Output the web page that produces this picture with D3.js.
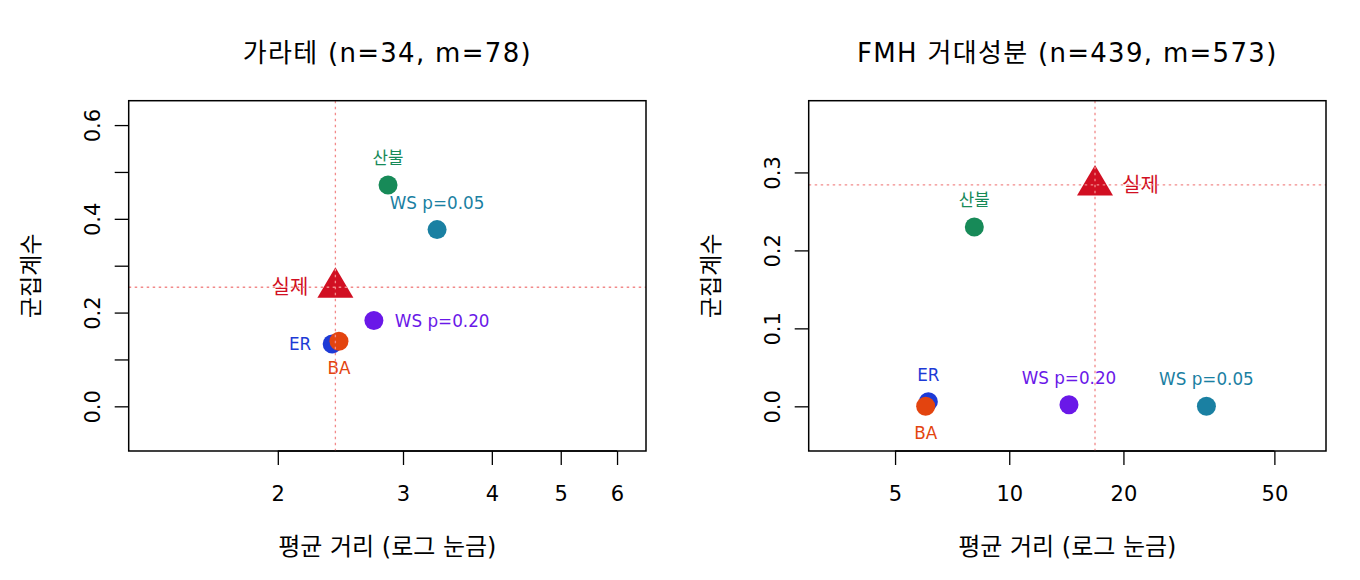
<!DOCTYPE html>
<html>
<head>
<meta charset="utf-8">
<script src="https://cdn.jsdelivr.net/npm/d3@7"></script>
<style>
body { margin: 0; background: #fff; }
text { font-family: "DejaVu Sans", "Noto Sans CJK KR", sans-serif; }
</style>
</head>
<body>
<svg id="chart" width="1360" height="580"></svg>
<script>
// drawing order matters: ER first so BA sits on top, 실제 last
var models = ['ER', 'BA', 'WS p=0.05', 'WS p=0.20', '산불', '실제'];

var karateDist = [2.385, 2.438, 3.35, 2.73, 2.858, 2.41];
var karateClust = [0.133, 0.139, 0.377, 0.183, 0.472, 0.254];
var fmhDist = [6.12, 6.02, 33.1, 14.37, 8.09, 16.83];
var fmhClust = [0.006, 0.0, 0.0, 0.002, 0.230, 0.284];

var karateXTicks = [2, 3, 4, 5, 6];
var karateYTicks = [0, 0.1, 0.2, 0.3, 0.4, 0.5, 0.6];
var karateYLabels = ['0.0', '', '0.2', '', '0.4', '', '0.6'];
var fmhXTicks = [5, 10, 20, 50];
var fmhYTicks = [0, 0.1, 0.2, 0.3];
var fmhYLabels = ['0.0', '0.1', '0.2', '0.3'];

var modelColor = {
  'ER': '#1d3ad6',
  'BA': '#e3440f',
  'WS p=0.05': '#1a80a2',
  'WS p=0.20': '#6a18e8',
  '산불': '#178a58',
  '실제': '#d10f22'
};

var svg = d3.select('#chart');

function drawPanel(opts) {
  var left = opts.left, top = 100.7, w = 517.3, h = 350.3;
  var g = svg.append('g').attr('transform', 'translate(' + left + ',' + top + ')');

  var x = d3.scaleLog().domain(opts.xDomain).range([0, w]);
  var y = d3.scaleLinear().domain(opts.yDomain).range([h, 0]);

  var rows = models.map(function(m, i) {
    return { name: m, dist: opts.dist[i], clust: opts.clust[i] };
  });
  var real = rows[rows.length - 1];

  // x axis
  var xAxis = g.append('g').attr('transform', 'translate(0,' + h + ')')
    .call(d3.axisBottom(x).tickValues(opts.xTicks).tickSize(14)
      .tickFormat(function(d) { return String(d); }));
  xAxis.select('.domain').remove();
  xAxis.attr('font-size', null);
  xAxis.selectAll('line').attr('stroke', '#000').attr('stroke-width', 1.3);
  xAxis.selectAll('text').attr('y', 43).attr('dy', null)
    .attr('dominant-baseline', 'central').style('font-size', '21px').attr('fill', '#000');
  xAxis.append('line')
    .attr('x1', x(opts.xTicks[0])).attr('x2', x(opts.xTicks[opts.xTicks.length - 1]))
    .attr('stroke', '#000').attr('stroke-width', 1.3);

  // y axis, labels turned like R's las=0
  var yAxis = g.append('g')
    .call(d3.axisLeft(y).tickValues(opts.yTicks).tickSize(14)
      .tickFormat(function(d, i) { return opts.yLabels[i]; }));
  yAxis.select('.domain').remove();
  yAxis.attr('font-size', null);
  yAxis.selectAll('line').attr('stroke', '#000').attr('stroke-width', 1.3);
  yAxis.selectAll('text').attr('x', 0).attr('y', 0).attr('dy', null)
    .attr('transform', 'translate(-36,0) rotate(-90)')
    .attr('text-anchor', 'middle').attr('dominant-baseline', 'central')
    .style('font-size', '21px').attr('fill', '#000');

  // points
  g.selectAll('circle.pt').data(rows.slice(0, -1)).enter()
    .append('circle').attr('class', 'pt')
    .attr('cx', function(d) { return x(d.dist); })
    .attr('cy', function(d) { return y(d.clust); })
    .attr('r', 9.5)
    .attr('fill', function(d) { return modelColor[d.name]; });

  var rx = x(real.dist), ry = y(real.clust);
  g.append('path')
    .attr('d', 'M' + rx + ',' + (ry - 20) + 'L' + (rx + 18) + ',' + (ry + 10.5) +
      'L' + (rx - 18) + ',' + (ry + 10.5) + 'Z')
    .attr('fill', modelColor['실제']);

  // labels
  g.selectAll('text.lbl').data(rows).enter()
    .append('text').attr('class', 'lbl')
    .each(function(d) {
      var pos = opts.labelPos[d.name];
      var isReal = d.name === '실제';
      var side = isReal ? 27 : 21;
      var px = x(d.dist), py = y(d.clust);
      var t = d3.select(this).text(d.name)
        .attr('fill', modelColor[d.name])
        .style('font-size', isReal ? '20px' : '16.8px')
        .attr('dominant-baseline', 'central');
      if (pos === 1) t.attr('x', px).attr('y', py + 27).attr('text-anchor', 'middle');
      if (pos === 3) t.attr('x', px).attr('y', py - 27).attr('text-anchor', 'middle');
      if (pos === 2) t.attr('x', px - side).attr('y', py).attr('text-anchor', 'end');
      if (pos === 4) t.attr('x', px + side).attr('y', py).attr('text-anchor', 'start');
    });

  // reference lines through the real network
  g.append('line').attr('x1', 0).attr('x2', w).attr('y1', ry).attr('y2', ry)
    .attr('stroke', '#f28a8a').attr('stroke-width', 1.3).attr('stroke-dasharray', '2.5,3.5');
  g.append('line').attr('x1', rx).attr('x2', rx).attr('y1', 0).attr('y2', h)
    .attr('stroke', '#f28a8a').attr('stroke-width', 1.3).attr('stroke-dasharray', '2.5,3.5');

  // box
  g.append('rect').attr('width', w).attr('height', h)
    .attr('fill', 'none').attr('stroke', '#000').attr('stroke-width', 1.5);

  // titles
  g.append('text').text(opts.title)
    .attr('x', w / 2).attr('y', 52.7 - top)
    .attr('text-anchor', 'middle').attr('dominant-baseline', 'central')
    .style('font-size', '26px').style('letter-spacing', '1.3px').attr('fill', '#000');
  g.append('text').text('평균 거리 (로그 눈금)')
    .attr('x', w / 2).attr('y', 547 - top)
    .attr('text-anchor', 'middle').attr('dominant-baseline', 'central')
    .style('font-size', '24px').attr('fill', '#000');
  g.append('text').text('군집계수')
    .attr('transform', 'translate(-98,' + (h / 2) + ') rotate(-90)')
    .attr('text-anchor', 'middle').attr('dominant-baseline', 'central')
    .style('font-size', '23px').attr('fill', '#000');
}

drawPanel({
  left: 128.7,
  title: '가라테 (n=34, m=78)',
  dist: karateDist, clust: karateClust,
  xDomain: [1.234, 6.59], yDomain: [-0.0953, 0.652],
  xTicks: karateXTicks, yTicks: karateYTicks, yLabels: karateYLabels,
  labelPos: { 'ER': 2, 'BA': 1, 'WS p=0.05': 3, 'WS p=0.20': 4, '산불': 3, '실제': 2 }
});

drawPanel({
  left: 808.7,
  title: 'FMH 거대성분 (n=439, m=573)',
  dist: fmhDist, clust: fmhClust,
  xDomain: [2.96, 68.4], yDomain: [-0.0573, 0.392],
  xTicks: fmhXTicks, yTicks: fmhYTicks, yLabels: fmhYLabels,
  labelPos: { 'ER': 3, 'BA': 1, 'WS p=0.05': 3, 'WS p=0.20': 3, '산불': 3, '실제': 4 }
});
</script>
</body>
</html>
